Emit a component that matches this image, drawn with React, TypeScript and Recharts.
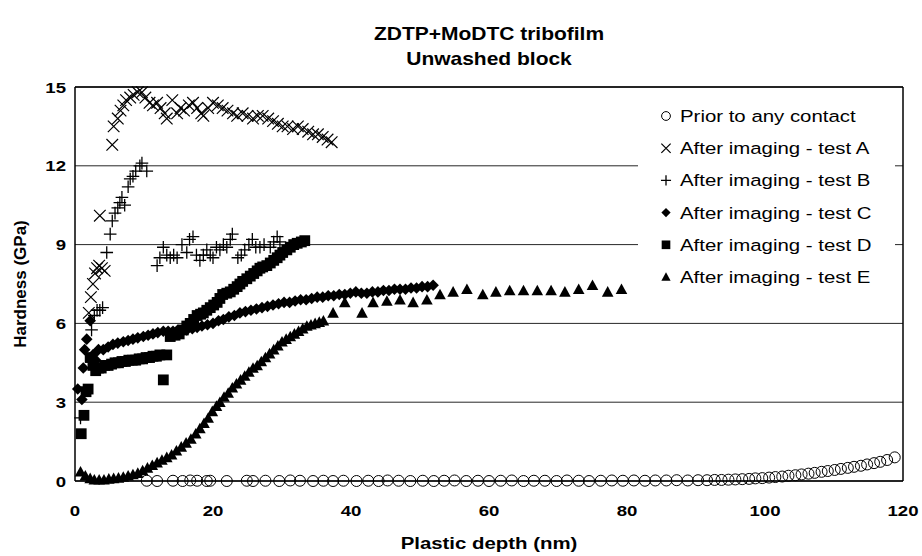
import React from "react";
import {
  ScatterChart,
  Scatter,
  XAxis,
  YAxis,
  CartesianGrid,
  ReferenceLine,
} from "recharts";

// depth (nm) / hardness (GPa)
const priorDepth = [
  10.4, 11.9, 14.2, 15.6, 16.7, 17.7, 19.1, 19.6, 22.0, 24.9,
  25.8, 27.6, 29.6, 31.2, 32.6, 34.5, 36.0, 37.4, 38.9, 40.8,
  42.5, 44.0, 45.3, 46.9, 48.6, 50.4, 52.0, 53.5, 55.0, 56.7,
  58.4, 60.0, 61.7, 63.3, 65.0, 66.5, 68.1, 69.8, 71.3, 73.0,
  74.5, 76.2, 77.8, 79.4, 81.0, 82.6, 84.1, 85.7, 87.2, 88.8,
  90.3, 91.6, 92.7, 93.7, 94.7, 95.7, 96.7, 97.7, 98.6, 99.6,
  100.6, 101.5, 102.5, 103.4, 104.4, 105.3, 106.3, 107.2, 108.2, 109.1,
  110.1, 111.0, 112.0, 112.9, 113.9, 114.8, 115.8, 116.7, 117.7, 118.8,
];
const priorHard = [
  0.01, 0.0, 0.01, 0.0, 0.02, 0.01, 0.0, 0.01, 0.0, 0.01,
  0.0, 0.01, 0.0, 0.02, 0.01, 0.0, 0.01, 0.0, 0.01, 0.0,
  0.01, 0.0, 0.02, 0.01, 0.0, 0.01, 0.0, 0.01, 0.02, 0.0,
  0.01, 0.0, 0.01, 0.02, 0.0, 0.01, 0.01, 0.0, 0.02, 0.01,
  0.0, 0.01, 0.02, 0.01, 0.02, 0.01, 0.02, 0.02, 0.03, 0.02,
  0.03, 0.03, 0.04, 0.04, 0.05, 0.06, 0.07, 0.08, 0.1, 0.11,
  0.13, 0.15, 0.17, 0.2, 0.22, 0.25, 0.28, 0.31, 0.35, 0.38,
  0.42, 0.46, 0.5, 0.54, 0.58, 0.63, 0.68, 0.73, 0.8, 0.9,
];

const testADepth = [
  2.0, 2.3, 2.6, 2.9, 3.2, 3.5, 3.9, 4.3, 3.6, 5.4,
  5.6, 6.2, 6.6, 7.0, 7.4, 8.0, 8.5, 9.1, 9.7, 10.2,
  10.8, 11.3, 11.9, 12.4, 13.0, 13.3, 14.1, 14.8, 15.3, 15.8,
  16.5, 17.1, 17.7, 18.3, 18.6, 19.3, 20.0, 20.7, 21.4, 22.1,
  22.9, 23.5, 24.3, 25.0, 25.8, 26.5, 27.2, 28.0, 28.7, 29.4,
  30.1, 30.8, 31.6, 32.3, 33.0, 33.8, 34.5, 35.2, 35.9, 36.6, 37.2,
];
const testAHard = [
  6.4, 7.0, 7.5, 7.9, 8.1, 8.2, 8.1, 8.0, 10.1, 12.8,
  13.5, 13.8, 14.1, 14.3, 14.5, 14.6, 14.7, 14.8, 14.8, 14.6,
  14.4, 14.3, 14.4, 14.2, 14.0, 13.8, 14.5, 14.0, 14.2, 14.1,
  14.3, 14.4, 14.2, 14.0, 13.9, 14.2, 14.4, 14.3, 14.2, 14.1,
  14.0, 13.9, 14.0, 13.9, 13.8, 13.9, 13.9, 13.8, 13.7, 13.6,
  13.5, 13.5, 13.4, 13.5, 13.4, 13.3, 13.2, 13.2, 13.1, 13.0, 12.9,
];

const testBDepth = [
  0.8, 2.4, 2.8, 3.2, 3.6, 4.0, 4.6, 5.1, 5.4, 5.8,
  6.2, 6.5, 6.8, 7.2, 7.7, 8.0, 8.4, 8.8, 9.4, 9.7,
  10.4, 11.9, 12.3, 12.8, 13.3, 13.8, 14.3, 14.8, 15.5, 16.2,
  16.6, 17.1, 17.6, 18.1, 18.6, 19.1, 19.6, 20.0, 20.5, 21.0,
  21.5, 22.0, 22.5, 22.8, 23.6, 24.1, 24.6, 25.2, 25.7, 26.2,
  26.8, 27.4, 28.3, 28.8, 29.3, 29.7,
];
const testBHard = [
  2.4, 5.75, 6.3, 6.5, 6.5, 6.6, 8.7, 9.4, 9.9, 10.2,
  10.4, 10.6, 10.8, 10.5, 11.2, 11.5, 11.6, 11.8, 12.0, 12.1,
  11.8, 8.2, 8.5, 8.9, 8.6, 8.5, 8.6, 8.5, 9.0, 8.7,
  9.2, 9.3, 8.6, 8.4, 8.6, 8.8, 8.6, 8.5, 8.9, 8.8,
  9.0, 8.9, 9.2, 9.4, 8.5, 8.6, 8.8, 9.0, 9.2, 8.9,
  8.9, 9.0, 8.9, 9.1, 9.3, 9.1,
];

const testCDepth = [
  0.4, 1.0, 1.2, 1.4, 1.7, 2.2, 2.6, 3.0, 3.4, 4.1,
  4.8, 5.5, 6.2, 7.0, 7.7, 8.4, 9.1, 9.9, 10.6, 11.3,
  12.0, 12.8, 13.5, 14.2, 14.9, 15.6, 16.2, 17.0, 17.7, 18.4,
  19.2, 20.0, 20.8, 21.5, 22.3, 23.1, 23.9, 24.7, 25.5, 26.3,
  27.1, 27.9, 28.7, 29.5, 30.3, 31.1, 31.9, 32.7, 33.5, 34.3,
  35.1, 35.9, 36.7, 37.5, 38.3, 39.1, 39.9, 40.7, 41.5, 42.3,
  43.1, 43.9, 44.7, 45.5, 46.3, 47.1, 47.9, 48.7, 49.5, 50.3,
  51.1, 51.9,
];
const testCHard = [
  3.5, 3.1, 4.3, 5.0, 5.4, 6.1, 4.8, 4.6, 5.0, 5.0,
  5.1, 5.2, 5.25, 5.3, 5.35, 5.4, 5.45, 5.5, 5.55, 5.6,
  5.65, 5.7, 5.7, 5.7, 5.75, 5.75, 5.75, 5.8, 5.85, 5.9,
  5.95, 6.0, 6.1, 6.15, 6.25, 6.3, 6.4, 6.45, 6.5, 6.55,
  6.6, 6.65, 6.7, 6.75, 6.8, 6.8, 6.85, 6.9, 6.9, 6.95,
  7.0, 7.0, 7.05, 7.05, 7.1, 7.1, 7.15, 7.2, 7.15, 7.15,
  7.2, 7.2, 7.25, 7.25, 7.3, 7.3, 7.3, 7.35, 7.35, 7.4,
  7.4, 7.45,
];

const testDDepth = [
  0.9, 1.3, 1.6, 1.9, 2.2, 2.6, 3.0, 3.4, 3.8, 4.3,
  4.8, 5.3, 5.8, 6.3, 6.8, 7.3, 7.8, 8.3, 8.8, 9.3,
  9.8, 10.3, 10.8, 11.3, 11.8, 12.3, 12.8, 13.3, 13.8, 14.5,
  15.1, 15.7, 16.2, 16.7, 17.2, 17.7, 18.2, 18.6, 19.1, 19.6,
  20.1, 20.6, 21.0, 21.4, 22.0, 22.5, 23.0, 23.5, 23.9, 24.3,
  24.9, 25.4, 25.9, 26.4, 26.8, 27.2, 27.8, 28.3, 28.8, 29.3,
  29.7, 30.1, 30.7, 31.2, 31.7, 32.2, 32.8, 33.3,
];
const testDHard = [
  1.8, 2.5, 3.4, 3.5, 4.7, 4.4, 4.2, 4.3, 4.3, 4.4,
  4.4, 4.45, 4.5, 4.5, 4.55, 4.55, 4.6, 4.6, 4.6, 4.65,
  4.65, 4.7, 4.7, 4.75, 4.75, 4.8, 3.85, 4.8, 5.5, 5.55,
  5.6, 5.75, 5.9, 6.0, 6.15, 6.3, 6.35, 6.4, 6.5, 6.6,
  6.7, 6.8, 6.95, 7.1, 7.15, 7.2, 7.3, 7.4, 7.5, 7.6,
  7.7, 7.8, 7.9, 8.0, 8.1, 8.15, 8.2, 8.3, 8.4, 8.5,
  8.6, 8.7, 8.8, 8.9, 9.0, 9.05, 9.1, 9.15,
];

const testEDepth = [
  0.8, 1.5, 2.2, 2.8, 3.5, 4.2, 4.9, 5.6, 6.3, 7.0,
  7.7, 8.4, 9.1, 9.8, 10.5, 11.2, 11.9, 12.6, 13.3, 14.0,
  14.7, 15.4, 16.1, 16.8, 17.5, 18.1, 18.7, 19.3, 19.9, 20.5,
  21.0, 21.6, 22.2, 22.8, 23.4, 24.0, 24.6, 25.2, 25.8, 26.4,
  27.0, 27.6, 28.2, 28.8, 29.4, 30.0, 30.6, 31.2, 31.8, 32.4,
  33.0, 33.6, 34.2, 34.8, 35.4, 36.0, 37.4, 39.1, 41.6, 43.2,
  45.2, 47.1, 49.0, 51.0, 52.9, 54.8, 56.8, 59.1, 61.0, 63.0,
  65.0, 67.0, 69.0, 71.0, 73.0, 75.0, 77.2, 79.2,
];
const testEHard = [
  0.35, 0.2, 0.1, 0.05, 0.05, 0.05, 0.08, 0.1, 0.12, 0.15,
  0.2, 0.25, 0.3, 0.4, 0.5, 0.6, 0.7, 0.8, 0.9, 1.0,
  1.15, 1.3, 1.45, 1.6, 1.8, 2.0, 2.2, 2.4, 2.65, 2.85,
  3.0, 3.2, 3.35, 3.55, 3.7, 3.85, 4.0, 4.15, 4.3, 4.4,
  4.55, 4.7, 4.85, 5.0, 5.15, 5.3, 5.4, 5.5, 5.6, 5.7,
  5.8, 5.9, 5.95, 6.0, 6.05, 6.1, 6.4, 6.8, 6.4, 6.8,
  6.85, 6.9, 6.8, 6.9, 7.1, 7.2, 7.3, 7.1, 7.2, 7.25,
  7.25, 7.25, 7.25, 7.2, 7.3, 7.45, 7.2, 7.3,
];

const xTicks = [0, 20, 40, 60, 80, 100, 120];
const yTicks = [0, 3, 6, 9, 12, 15];
const titleLines = ["ZDTP+MoDTC tribofilm", "Unwashed block"];
const legendLabels = [
  "Prior to any contact",
  "After imaging - test A",
  "After imaging - test B",
  "After imaging - test C",
  "After imaging - test D",
  "After imaging - test E",
];

const toPoints = (xs: number[], ys: number[]) =>
  xs.map((x, i) => ({ x, y: ys[i] }));

const FONT = '"Liberation Sans", Arial, sans-serif';
const STRETCH = 1.2; // the original picture is stretched horizontally

type Kind = "circle" | "x" | "plus" | "diamond" | "square" | "triangle";

function Marker({ kind, cx, cy, s = 1 }: { kind: Kind; cx: number; cy: number; s?: number }) {
  if (cx == null || cy == null) return null;
  switch (kind) {
    case "circle":
      return <circle cx={cx} cy={cy} r={5.5 * s} fill="none" stroke="#000" strokeWidth={1} />;
    case "x": {
      const h = 5.8 * s;
      return (
        <path
          d={`M${cx - h},${cy - h}L${cx + h},${cy + h}M${cx - h},${cy + h}L${cx + h},${cy - h}`}
          stroke="#000"
          strokeWidth={1.2}
        />
      );
    }
    case "plus": {
      const h = 6.3 * s;
      return (
        <path
          d={`M${cx - h},${cy}L${cx + h},${cy}M${cx},${cy - h}L${cx},${cy + h}`}
          stroke="#000"
          strokeWidth={1.3}
        />
      );
    }
    case "diamond": {
      const h = 5.8 * s;
      return <path d={`M${cx},${cy - h}L${cx + h},${cy}L${cx},${cy + h}L${cx - h},${cy}Z`} fill="#000" />;
    }
    case "square": {
      const h = 5.4 * s;
      return <rect x={cx - h} y={cy - h} width={2 * h} height={2 * h} fill="#000" />;
    }
    case "triangle": {
      const w = 5.8 * s;
      return <path d={`M${cx},${cy - 5.8 * s}L${cx + w},${cy + 4.8 * s}L${cx - w},${cy + 4.8 * s}Z`} fill="#000" />;
    }
  }
  return null;
}

const shape = (kind: Kind) => (p: any) => <Marker kind={kind} cx={p.cx} cy={p.cy} />;

function XTick(props: any) {
  const { x, y, payload } = props;
  return (
    <g transform={`translate(${x},${y + 27}) scale(${STRETCH},1)`}>
      <text textAnchor="middle" fontFamily={FONT} fontWeight="bold" fontSize={15.5} fill="#000">
        {payload.value}
      </text>
    </g>
  );
}

function YTick(props: any) {
  const { x, y, payload } = props;
  return (
    <g transform={`translate(${x - 1},${y + 5.5}) scale(${STRETCH},1)`}>
      <text textAnchor="end" fontFamily={FONT} fontWeight="bold" fontSize={15.5} fill="#000">
        {payload.value}
      </text>
    </g>
  );
}

const kinds: Kind[] = ["circle", "x", "plus", "diamond", "square", "triangle"];

export default function App() {
  return (
    <div style={{ position: "absolute", left: 0, top: 0, width: 922, height: 556, background: "#fff" }}>
      <ScatterChart width={922} height={556} margin={{ top: 87, right: 19, bottom: 0, left: 0 }}>
        <CartesianGrid horizontal vertical={false} stroke="#000" strokeWidth={1} strokeOpacity={0.85} />
        <XAxis
          type="number"
          dataKey="x"
          domain={[0, 120]}
          ticks={xTicks}
          height={75}
          tickLine={false}
          axisLine={{ stroke: "#000", strokeWidth: 1.5 }}
          tick={<XTick />}
        />
        <YAxis
          type="number"
          dataKey="y"
          domain={[0, 15]}
          ticks={yTicks}
          width={75}
          tickLine={false}
          axisLine={{ stroke: "#000", strokeWidth: 1.5 }}
          tick={<YTick />}
        />
        <ReferenceLine y={15} stroke="#000" strokeWidth={1.5} />
        <ReferenceLine x={120} stroke="#000" strokeWidth={1.5} />
        <Scatter data={toPoints(priorDepth, priorHard)} shape={shape("circle")} isAnimationActive={false} />
        <Scatter data={toPoints(testEDepth, testEHard)} shape={shape("triangle")} isAnimationActive={false} />
        <Scatter data={toPoints(testDDepth, testDHard)} shape={shape("square")} isAnimationActive={false} />
        <Scatter data={toPoints(testCDepth, testCHard)} shape={shape("diamond")} isAnimationActive={false} />
        <Scatter data={toPoints(testBDepth, testBHard)} shape={shape("plus")} isAnimationActive={false} />
        <Scatter data={toPoints(testADepth, testAHard)} shape={shape("x")} isAnimationActive={false} />
      </ScatterChart>

      {/* title, axis titles and legend */}
      <svg
        width={922}
        height={556}
        style={{ position: "absolute", left: 0, top: 0, pointerEvents: "none" }}
      >
        {titleLines.map((t, i) => (
          <g key={t} transform={`translate(489,${39.5 + i * 25}) scale(${STRETCH},1)`}>
            <text textAnchor="middle" fontFamily={FONT} fontWeight="bold" fontSize={17.5} fill="#000">
              {t}
            </text>
          </g>
        ))}
        <g transform={`translate(489,549) scale(${STRETCH},1)`}>
          <text textAnchor="middle" fontFamily={FONT} fontWeight="bold" fontSize={17} fill="#000">
            Plastic depth (nm)
          </text>
        </g>
        <g transform="translate(26,284) rotate(-90)">
          <text textAnchor="middle" fontFamily={FONT} fontWeight="bold" fontSize={17} fill="#000">
            Hardness (GPa)
          </text>
        </g>

        <rect x={638} y={97} width={257} height={200} fill="#fff" />
        {legendLabels.map((label, i) => {
          const cy = 116 + i * 32.2;
          return (
            <g key={label}>
              <Marker kind={kinds[i]} cx={666} cy={cy} s={0.8} />
              <g transform={`translate(680,${cy + 6}) scale(${STRETCH},1)`}>
                <text fontFamily={FONT} fontSize={17} fill="#000">
                  {label}
                </text>
              </g>
            </g>
          );
        })}
      </svg>
    </div>
  );
}
